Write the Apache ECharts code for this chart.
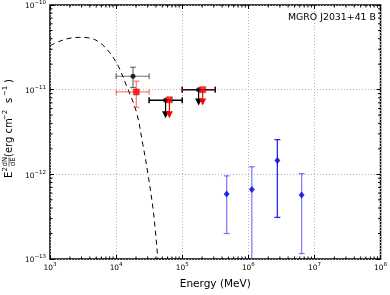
<!DOCTYPE html>
<html>
<head>
<meta charset="utf-8">
<script src="https://cdn.jsdelivr.net/npm/echarts@6/dist/echarts.min.js"></script>
<style>html,body{margin:0;padding:0;background:#fff}#c{width:390px;height:295px}</style>
</head>
<body>
<div id="c"></div>
<script>
// ---- data ----
const titleText = 'MGRO J2031+41 B';
const xTitle = 'Energy (MeV)';

// black detection point
const blackE = [1.8e4];
const blackF = [1.44e-11];
const blackELo = [1.0e4];
const blackEHi = [3.16e4];
const blackFLo = [1.06e-11];
const blackFHi = [1.84e-11];

// red detection point
const redE = [2.02e4];
const redF = [9.4e-12];
const redELo = [1.0e4];
const redEHi = [3.16e4];
const redFLo = [6.2e-12];
const redFHi = [1.26e-11];

// black upper limits
const blackUlE = [5.6e4, 1.77e5];
const blackUlF = [7.5e-12, 1.0e-11];
const blackUlELo = [3.16e4, 1.0e5];
const blackUlEHi = [1.0e5, 3.16e5];
const blackUlEnd = [4.6e-12, 6.5e-12];

// red upper limits
const redUlE = [6.4e4, 2.04e5];
const redUlF = [7.6e-12, 1.0e-11];
const redUlELo = [null, 1.0e5];
const redUlEHi = [null, 3.16e5];
const redUlEnd = [4.6e-12, 6.5e-12];

// blue points
const blueE = [4.7e5, 1.13e6, 2.75e6, 6.4e6];
const blueF = [5.85e-13, 6.6e-13, 1.46e-12, 5.7e-13];
const blueFLo = [2.0e-13, 5.0e-14, 3.1e-13, 1.16e-13];
const blueFHi = [9.6e-13, 1.23e-12, 2.57e-12, 1.02e-12];

// dashed model curve
const curveE = [1.0e3, 1.42e3, 2.0e3, 2.83e3, 3.8e3, 4.77e3, 6.2e3, 8.0e3, 1.07e4, 1.43e4, 2.02e4, 2.54e4, 3.02e4, 3.68e4, 4.28e4];
const curveF = [3.3e-11, 3.75e-11, 4.05e-11, 4.15e-11, 4.1e-11, 3.9e-11, 3.4e-11, 2.74e-11, 1.92e-11, 1.12e-11, 5.5e-12, 2.25e-12, 1.03e-12, 3.5e-13, 1.0e-13];

const xMin = 1e3, xMax = 1e8, yMin = 1e-13, yMax = 1e-10;

// ---- chart ----
const FONT = 'DejaVu Sans';
const chart = echarts.init(document.getElementById('c'), null, {renderer: 'canvas'});

function supLabel(v) {
  const e = Math.round(Math.log10(v));
  return '{b|10}{s|' + (e < 0 ? '\u2212' + (-e) : e) + '}';
}
const richLab = {
  b: {fontSize: 7.4, fontFamily: FONT, color: '#000', verticalAlign: 'bottom'},
  s: {fontSize: 5.5, fontFamily: FONT, color: '#000', verticalAlign: 'bottom', padding: [0, 0, 4, 0]}
};

const minorX = [], minorY = [];
for (let d = 3; d < 8; d++) for (let m = 2; m <= 9; m++) minorX.push([m * Math.pow(10, d), yMin]);
for (let d = -13; d < -10; d++) for (let m = 2; m <= 9; m++) minorY.push([xMin, m * Math.pow(10, d)]);

function zip(...arrs) { return arrs[0].map((_, i) => arrs.map(a => (a[i] == null ? '-' : a[i]))); }

function errRenderer(color, opacity, cap) {
  return function (params, api) {
    const x = api.value(0), y = api.value(1);
    const xlo = api.value(2), xhi = api.value(3), ylo = api.value(4), yhi = api.value(5);
    const ch = [];
    const st = {stroke: color, lineWidth: 1.2, opacity: opacity};
    if (!isNaN(xlo)) {
      const a = api.coord([xlo, y]), b = api.coord([xhi, y]);
      ch.push({type: 'line', shape: {x1: a[0], y1: a[1], x2: b[0], y2: b[1]}, style: st});
      ch.push({type: 'line', shape: {x1: a[0], y1: a[1] - cap, x2: a[0], y2: a[1] + cap}, style: st});
      ch.push({type: 'line', shape: {x1: b[0], y1: b[1] - cap, x2: b[0], y2: b[1] + cap}, style: st});
    }
    if (!isNaN(ylo)) {
      const a = api.coord([x, ylo]), b = api.coord([x, yhi]);
      ch.push({type: 'line', shape: {x1: a[0], y1: a[1], x2: b[0], y2: b[1]}, style: st});
      ch.push({type: 'line', shape: {x1: a[0] - cap, y1: a[1], x2: a[0] + cap, y2: a[1]}, style: st});
      ch.push({type: 'line', shape: {x1: b[0] - cap, y1: b[1], x2: b[0] + cap, y2: b[1]}, style: st});
    }
    return {type: 'group', children: ch};
  };
}

function ulRenderer(color, hOpacity, hWidth) {
  return function (params, api) {
    const x = api.value(0), y = api.value(1), xlo = api.value(2), xhi = api.value(3), yend = api.value(4);
    const ch = [];
    if (!isNaN(xlo)) {
      const st = {stroke: color, lineWidth: hWidth, opacity: hOpacity};
      const a = api.coord([xlo, y]), b = api.coord([xhi, y]);
      ch.push({type: 'line', shape: {x1: a[0], y1: a[1], x2: b[0], y2: b[1]}, style: st});
      ch.push({type: 'line', shape: {x1: a[0], y1: a[1] - 3, x2: a[0], y2: a[1] + 3}, style: st});
      ch.push({type: 'line', shape: {x1: b[0], y1: b[1] - 3, x2: b[0], y2: b[1] + 3}, style: st});
    }
    const p = api.coord([x, y]), e = api.coord([x, yend]);
    ch.push({type: 'line', shape: {x1: p[0], y1: p[1], x2: e[0], y2: e[1] - 4}, style: {stroke: color, lineWidth: 1.2}});
    ch.push({type: 'polygon', shape: {points: [[e[0] - 3.5, e[1] - 7], [e[0] + 3.5, e[1] - 7], [e[0], e[1]]]}, style: {fill: color}});
    return {type: 'group', children: ch};
  };
}

function minorXRender(params, api) {
  const cs = params.coordSys;
  const p = api.coord([api.value(0), yMin]);
  const st = {stroke: '#000', lineWidth: 1};
  return {type: 'group', children: [
    {type: 'line', shape: {x1: p[0], y1: cs.y + cs.height, x2: p[0], y2: cs.y + cs.height - 2.5}, style: st},
    {type: 'line', shape: {x1: p[0], y1: cs.y, x2: p[0], y2: cs.y + 2.5}, style: st}
  ]};
}
function minorYRender(params, api) {
  const cs = params.coordSys;
  const p = api.coord([xMin, api.value(1)]);
  const st = {stroke: '#000', lineWidth: 1};
  return {type: 'group', children: [
    {type: 'line', shape: {x1: cs.x, y1: p[1], x2: cs.x + 2.5, y2: p[1]}, style: st},
    {type: 'line', shape: {x1: cs.x + cs.width, y1: p[1], x2: cs.x + cs.width - 2.5, y2: p[1]}, style: st}
  ]};
}

const gridLine = {show: true, lineStyle: {color: '#b4b4b4', width: 1, type: [1, 2]}};
const tick = {show: true, inside: true, length: 4, lineStyle: {color: '#000', width: 1}};

// rotated y-axis title built from text pieces
const yT = 9, yB = 178;
function ytxt(text, lx, ly, fs) {
  return {type: 'text', x: lx, y: ly, style: {text: text, fontSize: fs, fontFamily: FONT, fill: '#000', verticalAlign: 'middle', align: 'left'}};
}
const yTitleGroup = {
  type: 'group', x: yT, y: yB, rotation: Math.PI / 2,
  children: [
    ytxt('E', 0, 0, 10),
    ytxt('2', 6.6, -4, 7),
    ytxt('dN', 11.5, -3.8, 7),
    {type: 'line', shape: {x1: 11.5, y1: 0, x2: 20.5, y2: 0}, style: {stroke: '#000', lineWidth: 0.6}},
    ytxt('dE', 11.7, 3.8, 7),
    ytxt('(erg cm', 21, 0, 10),
    ytxt('\u22122', 58, -4, 7),
    ytxt('s', 75, 0, 10),
    ytxt('\u22121', 82, -4, 7),
    ytxt(')', 95, 0, 10)
  ]
};

chart.setOption({
  animation: false,
  backgroundColor: '#fff',
  title: {text: titleText, right: 9, top: 8, textStyle: {fontSize: 9.4, fontWeight: 'normal', fontFamily: FONT, color: '#000'}},
  grid: {left: 50, right: 8, top: 5, bottom: 32, show: true, borderColor: '#000', borderWidth: 1.5, backgroundColor: 'transparent'},
  xAxis: [
    {type: 'log', logBase: 10, min: xMin, max: xMax, position: 'bottom',
     name: xTitle, nameLocation: 'middle', nameGap: 20, nameTextStyle: {fontSize: 10.5, fontFamily: FONT, color: '#000'},
     axisLine: {show: false}, axisTick: tick, splitLine: gridLine, minorTick: {show: false},
     axisLabel: {margin: 3, formatter: supLabel, rich: richLab}},
    {type: 'log', logBase: 10, min: xMin, max: xMax, position: 'top',
     axisLine: {show: false}, axisTick: tick, splitLine: {show: false}, axisLabel: {show: false}}
  ],
  yAxis: [
    {type: 'log', logBase: 10, min: yMin, max: yMax, position: 'left',
     axisLine: {show: false}, axisTick: tick, splitLine: gridLine,
     axisLabel: {margin: 4, formatter: supLabel, rich: richLab}},
    {type: 'log', logBase: 10, min: yMin, max: yMax, position: 'right',
     axisLine: {show: false}, axisTick: tick, splitLine: {show: false}, axisLabel: {show: false}}
  ],
  graphic: [yTitleGroup],
  series: [
    {type: 'custom', renderItem: minorXRender, data: minorX, silent: true, z: 5},
    {type: 'custom', renderItem: minorYRender, data: minorY, silent: true, z: 5},
    {type: 'line', data: zip(curveE, curveF), symbol: 'none', smooth: 0.35, clip: true,
     lineStyle: {color: '#000', width: 1, type: [5, 4]}, z: 2},
    // error bars
    {type: 'custom', renderItem: errRenderer('#000', 0.55, 3), clip: true,
     data: zip(blackE, blackF, blackELo, blackEHi, blackFLo, blackFHi), z: 3},
    {type: 'custom', renderItem: errRenderer('#ff2020', 0.6, 3), clip: true,
     data: zip(redE, redF, redELo, redEHi, redFLo, redFHi), z: 3},
    {type: 'custom', renderItem: ulRenderer('#000', 1, 1.5), clip: true,
     data: zip(blackUlE, blackUlF, blackUlELo, blackUlEHi, blackUlEnd), z: 3},
    {type: 'custom', renderItem: ulRenderer('#ff0000', 0.3, 1.2), clip: true,
     data: zip(redUlE, redUlF, redUlELo, redUlEHi, redUlEnd), z: 4},
    {type: 'custom', clip: true, z: 3,
     renderItem: function (params, api) {
       const x = api.value(0), y = api.value(1), lo = api.value(2), hi = api.value(3);
       const a = api.coord([x, lo]), b = api.coord([x, hi]);
       const op = params.dataIndex === 2 ? 0.95 : 0.55;
       const st = {stroke: '#1a1aff', lineWidth: 1.3, opacity: op};
       return {type: 'group', children: [
         {type: 'line', shape: {x1: a[0], y1: a[1], x2: b[0], y2: b[1]}, style: st},
         {type: 'line', shape: {x1: a[0] - 3, y1: a[1], x2: a[0] + 3, y2: a[1]}, style: st},
         {type: 'line', shape: {x1: b[0] - 3, y1: b[1], x2: b[0] + 3, y2: b[1]}, style: st}
       ]};
     },
     data: zip(blueE, blueF, blueFLo, blueFHi)},
    // markers
    {type: 'scatter', data: zip(blackE, blackF), symbol: 'circle', symbolSize: 5, itemStyle: {color: '#000'}, z: 6},
    {type: 'scatter', data: zip(redE, redF), symbol: 'rect', symbolSize: 6, itemStyle: {color: '#ff0000', borderColor: '#800', borderWidth: 0.5}, z: 6},
    {type: 'scatter', data: zip(blackUlE, blackUlF), symbol: 'circle', symbolSize: 5, itemStyle: {color: '#000'}, z: 6},
    {type: 'scatter', data: zip(redUlE, redUlF), symbol: 'rect', symbolSize: 6, itemStyle: {color: '#ff0000', borderColor: '#800', borderWidth: 0.5}, z: 7},
    {type: 'scatter', data: zip(blueE, blueF), symbol: 'diamond', symbolSize: [6, 7], itemStyle: {color: '#0000e0'}, z: 6}
  ]
});
</script>
</body>
</html>
